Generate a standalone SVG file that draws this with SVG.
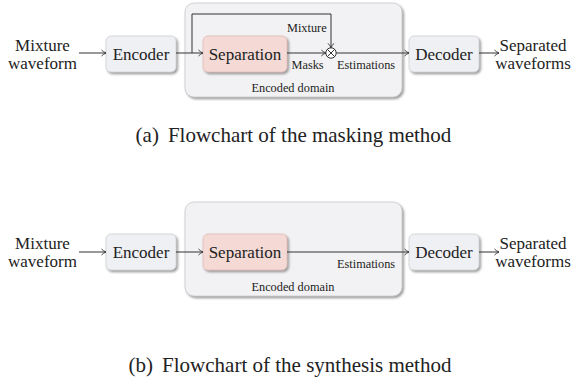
<svg xmlns="http://www.w3.org/2000/svg" width="578" height="383" viewBox="0 0 578 383">
  <defs>
    <filter id="shadow" x="-10%" y="-10%" width="130%" height="140%">
      <feDropShadow dx="1.6" dy="1.8" stdDeviation="0.9" flood-color="#7a7a7a" flood-opacity="0.75"/>
    </filter>
    <marker id="arrow" markerUnits="userSpaceOnUse" markerWidth="8" markerHeight="8" refX="6" refY="4" orient="auto">
      <path d="M1.5,1 Q3.5,3 6,4 Q3.5,5 1.5,7" fill="none" stroke="#333" stroke-width="0.9"/>
    </marker>
  </defs>
  <style>
    text { font-family: "Liberation Serif", "Times New Roman", serif; fill: #222; }
    .lbl { font-size: 17px; text-anchor: middle; }
    .sm { font-size: 12.3px; }
    .cap { font-size: 21px; text-anchor: middle; }
    .domain { fill: #f2f2f4; stroke: #c9c9cc; stroke-width: 0.8; filter: url(#shadow); }
    .block { fill: #eff0f3; stroke: #cfd0d4; stroke-width: 0.8; filter: url(#shadow); }
    .sep { fill: #f4d9d5; stroke: #e2bcb6; stroke-width: 0.8; filter: url(#shadow); }
    .wire { fill: none; stroke: #333; stroke-width: 1; }
    .arr { marker-end: url(#arrow); }
  </style>

  <!-- (a) masking method -->
  <g id="a-domain">
    <rect class="domain" x="185" y="3" width="217" height="94" rx="9"/>
    <text class="sm" x="293" y="92" text-anchor="middle">Encoded domain</text>
  </g>
  <g id="a-input">
    <text class="lbl" x="42.5" y="51">Mixture</text>
    <text class="lbl" x="42.5" y="69">waveform</text>
  </g>
  <g id="a-encoder">
    <rect class="block" x="106" y="36" width="70" height="36" rx="5"/>
    <text class="lbl" x="141" y="60">Encoder</text>
  </g>
  <g id="a-separation">
    <rect class="sep" x="203" y="36" width="84" height="36" rx="5"/>
    <text class="lbl" x="245" y="60">Separation</text>
  </g>
  <g id="a-multiply">
    <circle cx="331" cy="53" r="5.2" fill="#fff" stroke="#333" stroke-width="1"/>
    <path d="M327.3,49.3 L334.7,56.7 M334.7,49.3 L327.3,56.7" stroke="#333" stroke-width="1"/>
  </g>
  <g id="a-decoder">
    <rect class="block" x="409" y="36" width="70" height="36" rx="5"/>
    <text class="lbl" x="444" y="60">Decoder</text>
  </g>
  <g id="a-output">
    <text class="lbl" x="533" y="51">Separated</text>
    <text class="lbl" x="533" y="69">waveforms</text>
  </g>
  <g id="a-connectors">
    <line class="wire arr" x1="79" y1="53" x2="106" y2="53"/>
    <line class="wire arr" x1="176" y1="53" x2="203" y2="53"/>
    <polyline class="wire arr" points="192,53 192,14 331,14 331,47.8"/>
    <line class="wire arr" x1="287" y1="53" x2="325.8" y2="53"/>
    <line class="wire arr" x1="336.2" y1="53" x2="409" y2="53"/>
    <line class="wire arr" x1="479" y1="53" x2="499" y2="53"/>
    <text class="sm" x="287" y="31.5">Mixture</text>
    <text class="sm" x="291.5" y="69.3">Masks</text>
    <text class="sm" x="337" y="69.3">Estimations</text>
  </g>
  <text class="cap" x="293.5" y="142">(a)<tspan dx="9">Flowchart of the masking method</tspan></text>

  <!-- (b) synthesis method -->
  <g id="b-domain">
    <rect class="domain" x="185" y="202" width="217" height="94" rx="9"/>
    <text class="sm" x="293" y="291" text-anchor="middle">Encoded domain</text>
  </g>
  <g id="b-input">
    <text class="lbl" x="42.5" y="249">Mixture</text>
    <text class="lbl" x="42.5" y="267">waveform</text>
  </g>
  <g id="b-encoder">
    <rect class="block" x="106" y="234" width="70" height="36" rx="5"/>
    <text class="lbl" x="141" y="258">Encoder</text>
  </g>
  <g id="b-separation">
    <rect class="sep" x="203" y="234" width="84" height="36" rx="5"/>
    <text class="lbl" x="245" y="258">Separation</text>
  </g>
  <g id="b-decoder">
    <rect class="block" x="409" y="234" width="70" height="36" rx="5"/>
    <text class="lbl" x="444" y="258">Decoder</text>
  </g>
  <g id="b-output">
    <text class="lbl" x="533" y="249">Separated</text>
    <text class="lbl" x="533" y="267">waveforms</text>
  </g>
  <g id="b-connectors">
    <line class="wire arr" x1="79" y1="252" x2="106" y2="252"/>
    <line class="wire arr" x1="176" y1="252" x2="203" y2="252"/>
    <line class="wire arr" x1="287" y1="252" x2="409" y2="252"/>
    <line class="wire arr" x1="479" y1="252" x2="499" y2="252"/>
    <text class="sm" x="337" y="268">Estimations</text>
  </g>
  <text class="cap" x="290" y="372">(b)<tspan dx="9">Flowchart of the synthesis method</tspan></text>
</svg>
